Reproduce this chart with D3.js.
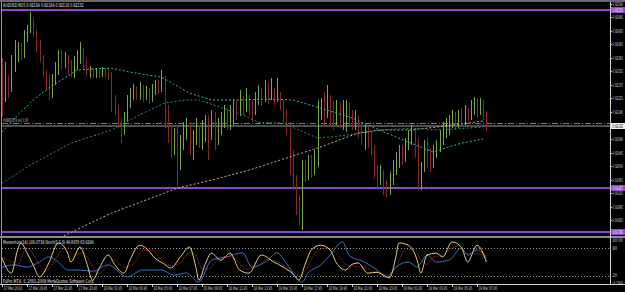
<!DOCTYPE html>
<html>
<head>
<meta charset="utf-8">
<script src="https://cdn.jsdelivr.net/npm/d3@7"></script>
<style>
  html, body { margin: 0; padding: 0; background: #000; }
  svg { display: block; }
  text { font-family: "DejaVu Sans", "Liberation Sans", sans-serif; }
</style>
</head>
<body>
<svg id="chart" width="625" height="292"></svg>
<script>
// AUDUSD M15, prices in points (1 point = 0.00001)
const symbol = "AUDUSD,M15";
const firstOpen = 92353;
const closes = [
  92220,92286,92253,92320,92360,92393,92370,92426,92453,92486,92446,92403,92360,
  92313,92286,92260,92293,92320,92370,92346,92360,92326,92306,92333,92360,92386,
  92346,92313,92320,92306,92316,92306,92320,92313,92303,92220,92193,92146,92113,
  92160,92213,92236,92253,92233,92260,92236,92246,92226,92253,92270,92260,92293,
  92186,92103,92053,92093,92003,92070,92113,92136,92060,92086,92120,92080,92103,
  92146,92120,92160,92086,92126,92146,92170,92136,92160,92186,92180,92213,92193,
  92226,92193,92180,92220,92236,92220,92253,92226,92246,92220,92233,92203,92170,
  92136,92020,91953,91886,91853,91993,91970,92013,91986,92020,92186,92203,92180,
  92220,92193,92170,92193,92160,92180,92203,92170,92146,92160,92126,92103,92120,
  92086,92060,91993,91970,91980,91936,91920,91960,91993,92020,92046,92026,92070,
  92093,92113,92086,91980,91993,92053,92026,92003,92046,92060,92086,92113,92126,
  92146,92160,92146,92170,92153,92180,92160,92193,92220,92186,92206,92184,92132
];
const highs = [
  92360,92346,92303,92370,92420,92413,92410,92453,92470,92513,92493,92453,92420,
  92370,92320,92303,92306,92346,92386,92386,92380,92370,92353,92366,92386,92413,
  92393,92360,92333,92326,92326,92320,92330,92326,92326,92313,92236,92203,92160,
  92180,92236,92260,92273,92266,92280,92270,92266,92260,92273,92286,92286,92320,
  92300,92203,92136,92126,92136,92103,92146,92160,92146,92120,92160,92136,92153,
  92170,92170,92186,92180,92160,92180,92203,92193,92203,92220,92220,92253,92233,
  92260,92236,92220,92246,92270,92260,92286,92280,92293,92260,92293,92246,92220,
  92186,92146,92053,91970,91903,92020,92020,92036,92036,92053,92220,92226,92246,
  92270,92236,92220,92220,92213,92220,92220,92213,92186,92186,92170,92146,92136,
  92136,92113,92070,92003,92003,91986,91953,91980,92020,92046,92070,92070,92093,
  92120,92136,92126,92093,92013,92086,92093,92060,92070,92086,92120,92146,92160,
  92170,92186,92180,92186,92193,92203,92193,92220,92230,92226,92226,92220,92184
];
const lows = [
  92163,92213,92226,92246,92313,92346,92353,92360,92413,92443,92430,92380,92346,
  92296,92253,92220,92226,92270,92303,92320,92326,92306,92296,92293,92320,92340,
  92320,92300,92293,92293,92293,92293,92296,92293,92286,92180,92170,92126,92076,
  92103,92146,92193,92220,92220,92220,92213,92220,92206,92213,92236,92240,92246,
  92126,92076,92026,92036,91926,91986,92053,92086,92036,92020,92070,92060,92053,
  92080,92020,92086,92053,92070,92103,92126,92120,92120,92136,92153,92166,92170,
  92180,92170,92146,92170,92203,92200,92213,92206,92220,92203,92213,92186,92146,
  92103,91970,91920,91836,91803,91786,91946,91953,91960,91970,91996,92153,92136,
  92160,92136,92120,92136,92126,92120,92113,92136,92120,92120,92093,92070,92053,
  92060,92036,91960,91920,91936,91903,91896,91903,91936,91970,91993,92003,92013,
  92053,92070,92026,91920,91920,91980,91993,91980,91993,92026,92046,92070,92093,
  92103,92126,92120,92126,92133,92136,92146,92153,92170,92160,92170,92153,92118
];

// moving averages, read at selected bars
const maFastBars = [0,5,10,15,20,24,28,35,41,51,55,60,67,76,86,93,102,112,123,131,138,142,147,154];
const maFastVals = [92113,92170,92220,92260,92293,92320,92323,92326,92313,92296,92273,92243,92220,92220,92223,92220,92193,92160,92110,92076,92046,92060,92076,92090];
const maSlowBars = [0,9,22,35,44,52,59,63,77,82,90,101,108,115,121,131,140,154];
const maSlowVals = [91943,92003,92076,92120,92170,92210,92220,92220,92170,92146,92143,92093,92100,92110,92120,92126,92120,92130];
const maLongBars = [12,19,35,52,56,67,79,92,101,114,121,131,144,154];
const maLongVals = [91720,91763,91843,91910,91926,91953,91986,92030,92060,92110,92120,92120,92136,92150];

// horizontal levels
const levels = [0.92520, 0.91927, 0.91780];
const orderLevel = 0.92143;
const orderLabel = "#38807279 sell 0.30";

// indicator window
const stochBars = [0,3,5,6,8,10,12,15,18,21,22,25,27,29,31,34,36,39,41,44,46,49,52,54,57,60,62,63,65,67,70,73,76,79,83,87,90,93,95,97,99,102,105,107,110,112,114,117,120,122,124,126,127,130,132,133,134,136,139,141,144,147,149,152,155];
const stochMain = [58,26,76,91,70,43,18,48,91,69,50,82,50,11,35,65,45,26,55,86,80,58,45,37,60,82,40,11,45,69,54,69,33,26,65,50,39,25,11,45,76,86,76,48,33,45,48,26,28,22,16,60,91,86,69,50,26,65,69,61,93,82,50,86,50];
const signalBars = [0,2,5,8,12,14,17,20,23,26,29,31,34,36,39,42,45,48,51,54,57,60,62,64,66,69,72,75,78,81,85,89,92,95,97,99,101,104,107,110,113,116,119,122,124,126,129,132,134,136,138,141,143,146,149,151,155];
const signalVals = [60,55,45,80,45,30,55,80,65,70,40,25,45,55,38,45,75,75,55,42,48,70,65,35,35,55,62,55,35,40,55,48,35,22,30,55,75,80,68,45,40,38,30,25,22,38,75,78,55,45,60,65,75,85,68,68,64];
const momBars = [0,4,8,12,15,18,21,25,29,34,40,45,51,55,59,63,67,72,77,80,85,88,91,94,96,98,102,105,109,111,116,120,123,126,130,133,134,136,139,143,147,149,152,155];
const momVals = [99.91,99.95,99.91,100.0,100.09,100.0,99.86,99.86,99.84,99.95,99.74,99.86,99.86,99.77,99.81,99.65,100.03,100.09,100.16,99.91,100.03,100.16,99.98,99.74,99.65,99.81,99.95,100.12,100.35,100.12,100.0,99.86,99.74,99.91,100.0,99.91,99.98,100.12,100.0,100.03,100.24,100.12,100.21,100.07];
const indicatorLabel = "Momentum(14) 100.0739  Stoch(5,3,3) 49.8970 63.6299";
const copyright = "FxPro MT4, \u00a9 2001-2009 MetaQuotes Software Corp.";

// axis labels
const priceTicks = [0.92540,0.92495,0.92450,0.92405,0.92360,0.92315,0.92270,0.92225,0.92180,0.92135,0.92090,0.92045,0.92000,0.91955,0.91910,0.91865,0.91820];
const indTicks = [{v: 100, t: "100.000"}, {v: 80, t: "80"}, {v: 20, t: "20"}, {v: 0, t: "-0.2304"}];
const timeLabels = ["17 Mar 2010","17 Mar 19:45","17 Mar 21:45","17 Mar 23:45","18 Mar 01:45","18 Mar 03:45","18 Mar 05:45","18 Mar 07:45","18 Mar 09:45","18 Mar 11:45","18 Mar 13:45","18 Mar 15:45","18 Mar 17:45","18 Mar 19:45","18 Mar 21:45","18 Mar 23:45","19 Mar 01:45","19 Mar 03:45","19 Mar 05:45","19 Mar 07:45"];
const timeLabelStep = 8;

const P = 1e-5;
const W = 625, H = 292;
const axisX = 610;
const mainTop = 3, mainBottom = 236;
const indTop = 238, indBottom = 284;
const barStep = 3.125;

const svg = d3.select("#chart");

const x = d3.scaleLinear()
  .domain([0, closes.length - 1])
  .range([2, 2 + (closes.length - 1) * barStep]);
const y = d3.scaleLinear().domain([0.917667, 0.925433]).range([mainBottom, mainTop]);
const yStoch = d3.scaleLinear().domain([0, 100]).range([285.3, 238.7]);
const yMom = d3.scaleLinear().domain([99.6, 100.4]).range([285, 239]);

// tiny MT4-style label squeezed to a given width
function label(g, str, px, py, width, fill) {
  const t = g.append("text")
    .attr("font-size", 5).attr("fill", fill || "#d8d8d8")
    .text(str);
  const k = width / t.node().getComputedTextLength();
  t.attr("transform", `translate(${px},${py}) scale(${k},1)`);
  return t;
}

svg.append("rect").attr("width", W).attr("height", H).attr("fill", "#000");

const defs = svg.append("defs");
defs.append("clipPath").attr("id", "clipMain")
  .append("rect").attr("x", 2).attr("y", mainTop).attr("width", axisX - 2).attr("height", mainBottom - mainTop);
defs.append("clipPath").attr("id", "clipInd")
  .append("rect").attr("x", 2).attr("y", indTop).attr("width", axisX - 2).attr("height", indBottom - indTop);

// frame
const frame = svg.append("g").attr("shape-rendering", "crispEdges");
frame.append("rect").attr("x", 0).attr("y", 0).attr("width", W).attr("height", 2).attr("fill", "#6a6a6a");
frame.append("line").attr("x1", 1.5).attr("x2", 1.5).attr("y1", 2).attr("y2", indBottom).attr("stroke", "#9a9a9a");
frame.append("rect").attr("x", 0).attr("y", mainBottom).attr("width", W).attr("height", 2).attr("fill", "#8c8c8c");
frame.append("line").attr("x1", 0).attr("x2", W).attr("y1", indBottom + 0.5).attr("y2", indBottom + 0.5).attr("stroke", "#d0d0d0");
frame.append("line").attr("x1", axisX + 0.5).attr("x2", axisX + 0.5).attr("y1", 2).attr("y2", indBottom).attr("stroke", "#d0d0d0");

const mainG = svg.append("g").attr("clip-path", "url(#clipMain)");

// level lines
mainG.append("g").attr("shape-rendering", "crispEdges")
  .selectAll("line").data(levels).join("line")
  .attr("x1", 2).attr("x2", axisX)
  .attr("y1", d => Math.round(y(d))).attr("y2", d => Math.round(y(d)))
  .attr("stroke", "#8d46c9").attr("stroke-width", 2);

// order line
mainG.append("line")
  .attr("x1", 2).attr("x2", axisX)
  .attr("y1", Math.round(y(orderLevel)) + 0.5).attr("y2", Math.round(y(orderLevel)) + 0.5)
  .attr("stroke", "#5f8f4f").attr("stroke-dasharray", "6,2,1,2")
  .attr("shape-rendering", "crispEdges");
label(mainG, orderLabel, 3, y(orderLevel) - 1, 25, "#c8c8c8");

// bid line
const lastClose = closes[closes.length - 1] * P;
mainG.append("rect")
  .attr("x", 2).attr("width", axisX - 2)
  .attr("y", Math.round(y(lastClose)) - 1).attr("height", 2)
  .attr("fill", "#4e4e4e");

// candles
const bars = closes.map((c, i) => {
  const o = i ? closes[i - 1] : firstOpen;
  return {
    i,
    o: o * P,
    c: c * P,
    h: Math.max(highs[i], o, c) * P,
    l: Math.min(lows[i], o, c) * P
  };
});
mainG.append("g").attr("shape-rendering", "crispEdges")
  .selectAll("line").data(bars).join("line")
  .attr("x1", d => Math.round(x(d.i)) + 0.5).attr("x2", d => Math.round(x(d.i)) + 0.5)
  .attr("y1", d => y(d.h)).attr("y2", d => y(d.l))
  .attr("stroke", d => d.c >= d.o ? "#78a848" : "#8a2828");

// moving averages
const maLine = d3.line().x(d => x(d[0])).y(d => y(d[1] * P));
const mas = [
  {bars: maLongBars, vals: maLongVals, color: "#cdb872"},
  {bars: maSlowBars, vals: maSlowVals, color: "#2d8a86"},
  {bars: maFastBars, vals: maFastVals, color: "#36b7aa"}
];
mas.forEach(m => {
  mainG.append("path")
    .datum(m.bars.map((b, k) => [b, m.vals[k]]))
    .attr("d", maLine)
    .attr("fill", "none").attr("stroke", m.color)
    .attr("stroke-width", 1).attr("stroke-dasharray", "2,2");
});

// title
const last = bars[bars.length - 1];
label(svg, `${symbol}  ${last.o.toFixed(5)} ${last.h.toFixed(5)} ${last.l.toFixed(5)} ${last.c.toFixed(5)}`, 3, 7, 81, "#e8e8e8");

// price axis
const axisG = svg.append("g");
const labelX = 612.5, labelLen = 10.5;
priceTicks.forEach(p => {
  const yy = Math.round(y(p)) + 0.5;
  axisG.append("line").attr("x1", axisX).attr("x2", axisX + 2).attr("y1", yy).attr("y2", yy)
    .attr("stroke", "#d0d0d0").attr("shape-rendering", "crispEdges");
  label(axisG, p.toFixed(5), labelX, yy + 1.5, labelLen);
});
levels.forEach(p => {
  const yy = Math.round(y(p));
  axisG.append("rect").attr("x", 611).attr("y", yy - 3).attr("width", 14).attr("height", 6).attr("fill", "#8d46c9");
  label(axisG, p.toFixed(5), labelX, yy + 1.5, labelLen, "#fff");
});
{
  const yy = Math.round(y(lastClose));
  axisG.append("rect").attr("x", 611).attr("y", yy - 3).attr("width", 14).attr("height", 6).attr("fill", "#f2f2f2");
  label(axisG, lastClose.toFixed(5), labelX, yy + 1.5, labelLen, "#000");
}

// indicator window
const indG = svg.append("g").attr("clip-path", "url(#clipInd)");
[80, 20].forEach(v => {
  indG.append("line").attr("x1", 2).attr("x2", axisX)
    .attr("y1", Math.round(yStoch(v)) + 0.5).attr("y2", Math.round(yStoch(v)) + 0.5)
    .attr("stroke", "#a0a0a0").attr("stroke-dasharray", "1,2")
    .attr("shape-rendering", "crispEdges");
});
indG.append("path")
  .datum(momBars.map((b, k) => [b, momVals[k]]))
  .attr("d", d3.line().x(d => x(d[0])).y(d => yMom(d[1])).curve(d3.curveMonotoneX))
  .attr("fill", "none").attr("stroke", "#3d6fc4").attr("stroke-width", 1);
indG.append("path")
  .datum(signalBars.map((b, k) => [b, signalVals[k]]))
  .attr("d", d3.line().x(d => x(d[0])).y(d => yStoch(d[1])).curve(d3.curveMonotoneX))
  .attr("fill", "none").attr("stroke", "#a5322a").attr("stroke-width", 1).attr("stroke-dasharray", "1,1");
indG.append("path")
  .datum(stochBars.map((b, k) => [b, stochMain[k]]))
  .attr("d", d3.line().x(d => x(d[0])).y(d => yStoch(d[1])).curve(d3.curveMonotoneX))
  .attr("fill", "none").attr("stroke", "#e3d184").attr("stroke-width", 1);

label(svg, indicatorLabel, 3, 244, 91, "#e8e8e8");
label(svg, copyright, 3, 282.5, 92, "#e8e8e8");

indTicks.forEach(d => {
  const yy = Math.min(Math.max(yStoch(d.v), 240), 283);
  label(axisG, d.t, labelX, yy + 1.5, d.t.length > 3 ? labelLen : 4.5);
});

// time axis
const timeG = svg.append("g");
timeLabels.forEach((t, k) => {
  const xx = Math.round(x(k * timeLabelStep)) + 0.5;
  timeG.append("line").attr("x1", xx).attr("x2", xx).attr("y1", indBottom).attr("y2", indBottom + 3)
    .attr("stroke", "#d0d0d0").attr("shape-rendering", "crispEdges");
  label(timeG, t, xx + 1, 290, 19);
});
</script>
</body>
</html>
